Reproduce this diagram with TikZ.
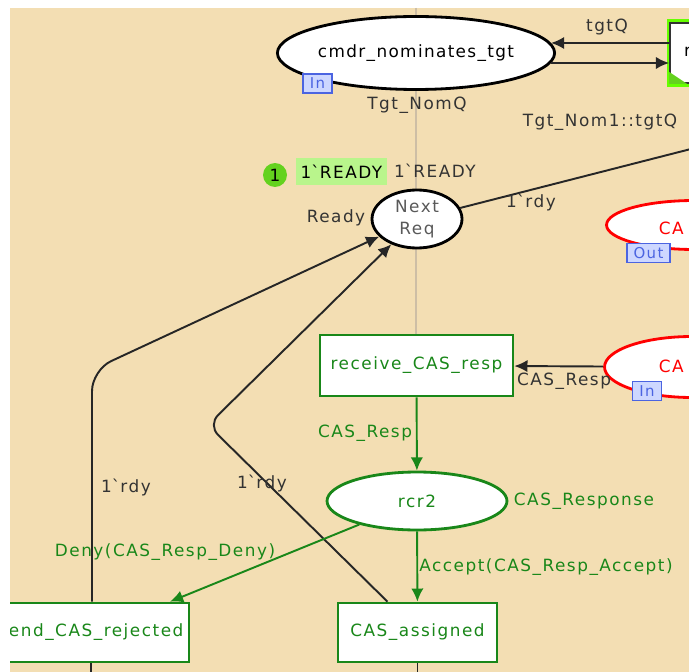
\documentclass[tikz,border=0pt]{standalone}
\usepackage{fontspec}
\setmainfont{DejaVu Sans}[LetterSpace=9]
\usetikzlibrary{arrows.meta,shapes.geometric}

\definecolor{bgtan}{RGB}{243,222,179}
\definecolor{cpngreen}{RGB}{25,135,25}
\definecolor{tagblue}{RGB}{75,100,225}
\definecolor{tagfill}{RGB}{205,215,255}
\definecolor{markgreen}{RGB}{185,245,140}
\definecolor{dotgreen}{RGB}{100,210,30}
\definecolor{guide}{RGB}{205,190,165}
\newcommand{\bq}{\textasciigrave}

\tikzset{
  place/.style={ellipse,draw,fill=white,line width=1.6pt,inner sep=0pt},
  trans/.style={rectangle,draw=cpngreen,fill=white,line width=1.5pt,inner sep=0pt,text=cpngreen},
  tag/.style={rectangle,draw=tagblue,fill=tagfill,text=tagblue,line width=0.8pt,
    font=\fontsize{8.5}{9}\selectfont,inner sep=1pt,minimum width=0.58cm,minimum height=0.38cm},
  arc/.style={->,line width=1.1pt,draw=black!85},
  garc/.style={->,line width=1.1pt,draw=cpngreen},
  lbl/.style={text=black!80},
  glbl/.style={text=cpngreen},
}

\begin{document}
\begin{tikzpicture}[x=0.02cm,y=-0.02cm,>={Latex[length=7.5pt,width=7pt]},
  font=\fontsize{9.6}{12}\selectfont]
\useasboundingbox (0,0) rectangle (689,672);
\fill[white] (0,0) rectangle (689,672);
\clip (10,8) rectangle (689,672);
\fill[bgtan] (10,8) rectangle (689,672);
\draw[guide,line width=1.2pt] (416,8) -- (416,335);

% places
\node (cmdr) at (416,53) [place,minimum width=5.46cm,minimum height=1.46cm,
  font=\fontsize{9.6}{12}\selectfont\addfontfeature{LetterSpace=8}] {cmdr\_nominates\_tgt};
\node (next) at (417,219) [place,minimum width=1.8cm,minimum height=1.16cm,align=center,
  text=black!65,font=\fontsize{9.6}{12.5}\selectfont] {Next\\Req};
\node (rcr) at (417,501) [place,draw=cpngreen,text=cpngreen,minimum width=3.6cm,minimum height=1.16cm] {rcr2};
\node (casout) at (694,225) [place,draw=red,minimum width=3.5cm,minimum height=0.98cm] {};
\node (casin) at (692,367) [place,draw=red,minimum width=3.5cm,minimum height=1.22cm] {};
\node (casoutname) at (690,228) [anchor=east,text=red] {CA};
\node (casinname) at (690,366) [anchor=east,text=red] {CA};

% transitions
\node (recv) at (416.5,365.5) [trans,minimum width=3.86cm,minimum height=1.22cm] {receive\_CAS\_resp};
\node (ass) at (417.5,632.5) [trans,minimum width=3.18cm,minimum height=1.18cm] {CAS\_assigned};
\node (rej) at (91,632.5) [trans,minimum width=3.92cm,minimum height=1.18cm] {send\_CAS\_rejected};
\node (nom) at (730,53) [rectangle,draw=black!80,fill=white,line width=1pt,
  minimum width=2.4cm,minimum height=1.2cm,
  preaction={draw=green!60!yellow,line width=4pt}] {};
\fill[dotgreen] (nom.south west) -- ++(0,-12) -- ++(18,12) -- cycle;
\node (nomname) at (678,52) [anchor=west] {r};

% port tags
\node (cmdrtag) at (317.5,83.5) [tag] {In};
\node (outtag) at (648.5,253) [tag,minimum width=0.86cm] {Out};
\node (intag) at (647,391) [tag] {In};

% marking
\node (tok) at (275,175) [circle,fill=dotgreen,minimum size=0.48cm,inner sep=0pt] {1};
\node (mark) at (341.5,171.5) [fill=markgreen,minimum width=1.82cm,minimum height=0.54cm,
  inner sep=0pt] {1\bq READY};

% arcs
\coordinate (k1) at (92,370);
\coordinate (k2) at (208,425);
\coordinate (offr) at (730,139);
\draw[arc] ([yshift=0.2cm]nom.west) -- ([xshift=-0.1cm,yshift=0.2cm]cmdr.east);
\draw[arc] ([xshift=-0.1cm,yshift=-0.2cm]cmdr.east) -- ([yshift=-0.2cm]nom.west);
\draw[line width=1.1pt,black!85] (next) -- (offr);
\draw[arc,rounded corners=12pt] (rej.north -| k1) -- (k1) -- (next);
\draw[arc,rounded corners=8pt] ([xshift=-0.6cm]ass.north) -- (k2) -- (next);
\draw[arc] (casin) -- (recv);
\draw[garc] (recv) -- (rcr);
\draw[garc] (rcr) -- (ass);
\draw[garc] (rcr) -- ([xshift=1.58cm]rej.north);
\draw[line width=1.1pt,black!85] (rej.south) -- (rej.south |- 0,680);
\draw[line width=1.1pt,black!85] (ass.south) -- (ass.south |- 0,680);

% inscriptions
\node (ltgtq) at (607,27) [lbl] {tgtQ};
\node (lnomq) at (417,105) [lbl] {Tgt\_NomQ};
\node (lnom1) at (600,122) [lbl] {Tgt\_Nom1::tgtQ};
\node (linit) at (435,171) [lbl] {1\bq READY};
\node (lrdy) at (531,203) [lbl] {1\bq rdy};
\node (lready) at (336,218) [lbl] {Ready};
\node (lresp) at (564,381) [lbl] {CAS\_Resp};
\node (lrdya) at (126,488) [lbl] {1\bq rdy};
\node (lrdyb) at (262,484) [lbl] {1\bq rdy};
\node (lgresp) at (365,433) [glbl] {CAS\_Resp};
\node (lcolset) at (584,501) [glbl] {CAS\_Response};
\node (ldeny) at (165,552) [glbl] {Deny(CAS\_Resp\_Deny)};
\node (laccept) at (546,567) [glbl] {Accept(CAS\_Resp\_Accept)};

\end{tikzpicture}
\end{document}
